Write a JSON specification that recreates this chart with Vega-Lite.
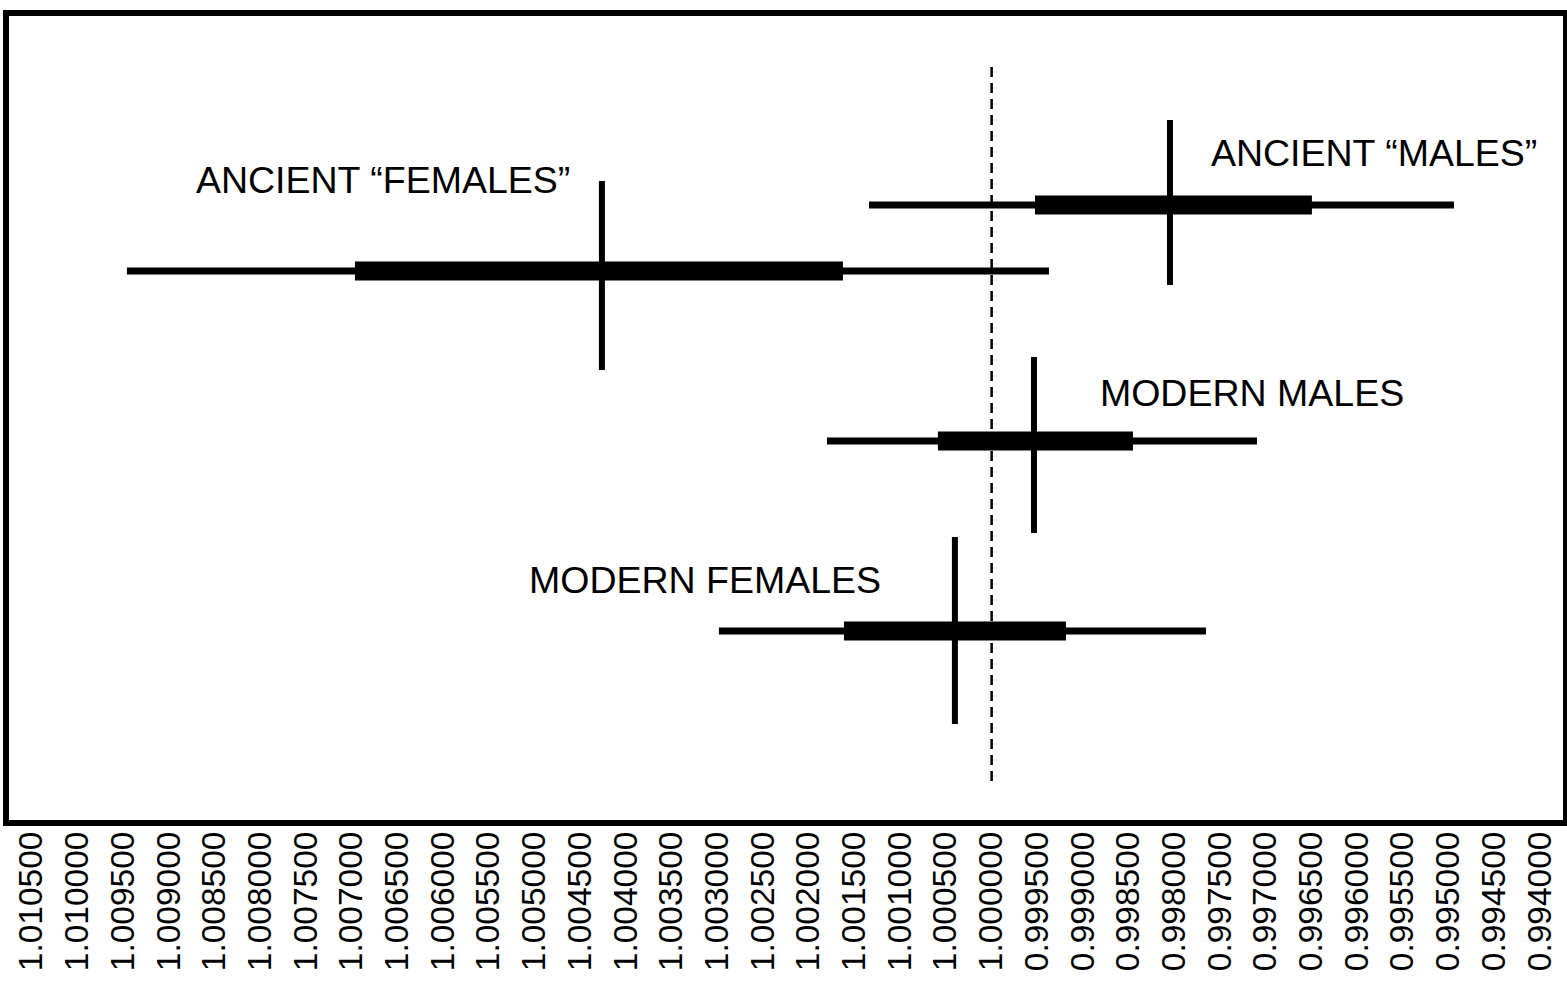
{
  "$schema": "https://vega.github.io/schema/vega-lite/v6.json",
  "width": 1560,
  "height": 810,
  "autosize": {"type": "none"},
  "padding": {"left": 6, "top": 13, "right": 1, "bottom": 158},
  "background": "white",
  "config": {
    "view": {"stroke": "black", "strokeWidth": 6},
    "font": "Liberation Sans"
  },
  "datasets": {
    "groups": [
      {"group": "ANCIENT “FEMALES”", "lo": 1.009461, "hi": 0.999373, "lo50": 1.006966, "hi50": 1.001627, "est": 1.004264, "ypos": 2.58, "ytop": 1.68, "ybot": 3.57, "lx": 1.008706, "ly": 1.69},
      {"group": "ANCIENT “MALES”", "lo": 1.001342, "hi": 0.994942, "lo50": 0.999526, "hi50": 0.996496, "est": 0.998049, "ypos": 1.92, "ytop": 1.07, "ybot": 2.72, "lx": 0.997601, "ly": 1.42},
      {"group": "MODERN MALES", "lo": 1.001802, "hi": 0.997097, "lo50": 1.000588, "hi50": 0.998454, "est": 0.999537, "ypos": 4.28, "ytop": 3.44, "ybot": 5.2, "lx": 0.998815, "ly": 3.82},
      {"group": "MODERN FEMALES", "lo": 1.002984, "hi": 0.997655, "lo50": 1.001616, "hi50": 0.999187, "est": 1.000402, "ypos": 6.18, "ytop": 5.24, "ybot": 7.11, "lx": 1.005062, "ly": 5.69}
    ]
  },
  "layer": [
    {
      "data": {"values": [{"ref": 1.0, "y0": 0.54, "y1": 7.68}]},
      "mark": {"type": "rule", "strokeDash": [10, 6], "strokeWidth": 2.5, "color": "black"},
      "encoding": {
        "x": {"field": "ref", "type": "quantitative"},
        "y": {"field": "y0", "type": "quantitative"},
        "y2": {"field": "y1"}
      }
    },
    {
      "data": {"name": "groups"},
      "mark": {"type": "rule", "strokeWidth": 7, "color": "black"},
      "encoding": {
        "x": {"field": "lo", "type": "quantitative"},
        "x2": {"field": "hi"},
        "y": {"field": "ypos", "type": "quantitative"}
      }
    },
    {
      "data": {"name": "groups"},
      "mark": {"type": "rule", "strokeWidth": 19, "color": "black"},
      "encoding": {
        "x": {"field": "lo50", "type": "quantitative"},
        "x2": {"field": "hi50"},
        "y": {"field": "ypos", "type": "quantitative"}
      }
    },
    {
      "data": {"name": "groups"},
      "mark": {"type": "rule", "strokeWidth": 6, "color": "black"},
      "encoding": {
        "x": {"field": "est", "type": "quantitative"},
        "y": {"field": "ytop", "type": "quantitative"},
        "y2": {"field": "ybot"}
      }
    },
    {
      "data": {"name": "groups"},
      "mark": {"type": "text", "align": "left", "baseline": "middle", "fontSize": 37.5, "font": "Liberation Sans", "color": "black"},
      "encoding": {
        "x": {"field": "lx", "type": "quantitative"},
        "y": {"field": "ly", "type": "quantitative"},
        "text": {"field": "group"}
      }
    }
  ],
  "resolve": {"scale": {"x": "shared", "y": "shared"}},
  "encoding": {
    "x": {
      "type": "quantitative",
      "scale": {"domain": [0.993716, 1.010784], "reverse": true, "nice": false, "zero": false},
      "axis": {
        "title": null,
        "grid": false,
        "ticks": false,
        "domain": false,
        "values": [0.994, 0.9945, 0.995, 0.9955, 0.996, 0.9965, 0.997, 0.9975, 0.998, 0.9985, 0.999, 0.9995, 1.0, 1.0005, 1.001, 1.0015, 1.002, 1.0025, 1.003, 1.0035, 1.004, 1.0045, 1.005, 1.0055, 1.006, 1.0065, 1.007, 1.0075, 1.008, 1.0085, 1.009, 1.0095, 1.01, 1.0105],
        "format": ".6f",
        "labelAngle": -90,
        "labelFontSize": 33.5,
        "labelFont": "Liberation Sans",
        "labelColor": "black",
        "labelPadding": 8,
        "labelOverlap": false,
        "labelFlush": false,
        "labelBound": false
      }
    },
    "y": {
      "type": "quantitative",
      "scale": {"domain": [0, 8.1], "reverse": true, "nice": false, "zero": false},
      "axis": null
    }
  }
}
